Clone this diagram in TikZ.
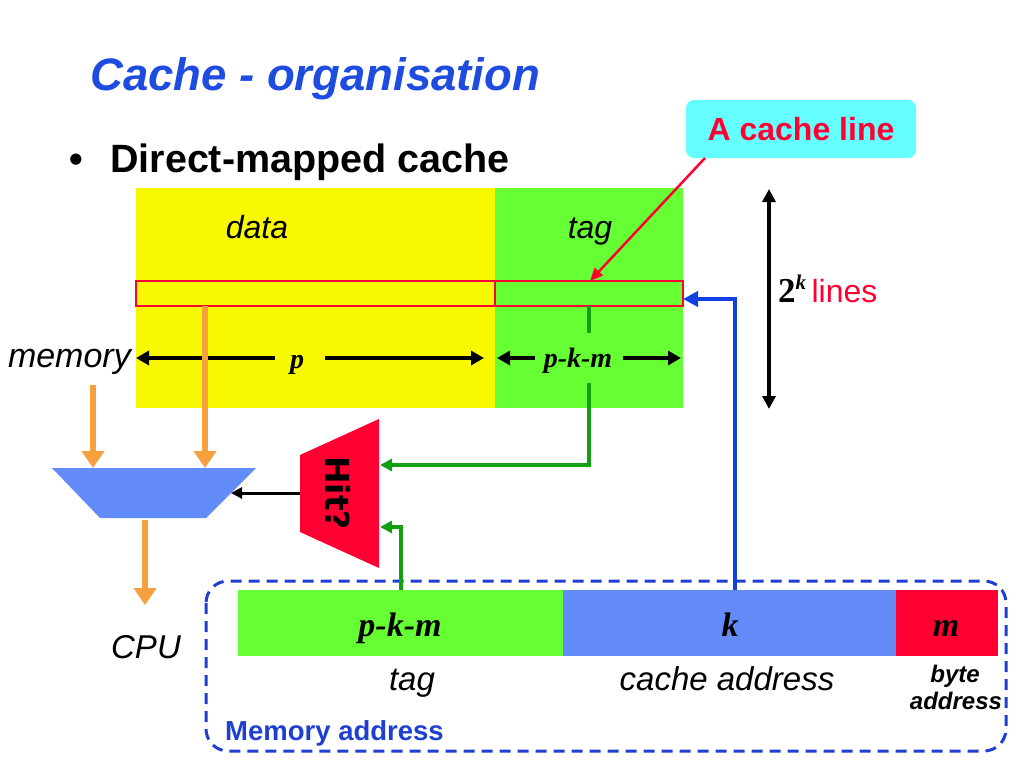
\documentclass[tikz,border=0pt]{standalone}
\usepackage{fontspec}
\setmainfont{Liberation Sans}
\newfontfamily\seriffont{Liberation Serif}
\newfontfamily\heavyfont{DejaVu Sans}
\usetikzlibrary{arrows.meta}
\definecolor{cyel}{HTML}{F8F800}
\definecolor{cgrn}{HTML}{66FF33}
\definecolor{cblu}{HTML}{648CF8}
\definecolor{cred}{HTML}{FF0033}
\definecolor{ccyan}{HTML}{66FFFF}
\definecolor{ctitle}{HTML}{1E4BE0}
\definecolor{corange}{HTML}{F7A040}
\definecolor{cline}{HTML}{1040E0}
\definecolor{cgline}{HTML}{10A010}
\definecolor{cdash}{HTML}{1E3FD0}
\newcommand{\fs}[1]{\fontsize{#1}{#1}\selectfont}
\tikzset{
  box/.style={inner sep=0, outer sep=0, anchor=north west},
  lbl/.style={inner sep=0, anchor=base, font=\fs{32}\itshape},
  mathlbl/.style={inner sep=0, anchor=base, font=\fs{28}\seriffont\bfseries\itshape},
  barlbl/.style={inner sep=0, anchor=base, font=\fs{34}\seriffont\bfseries\itshape},
  blk/.style={line width=3.5pt, -{Triangle[length=13pt,width=14pt]}},
  org/.style={corange, line width=6pt, -{Triangle[length=17pt,width=22pt]}},
  grn/.style={cgline, line width=3.5pt},
  linebox/.style={draw=cred, line width=2pt, inner sep=0, outer sep=0, anchor=north west, minimum height=25pt},
}
\begin{document}
\begin{tikzpicture}[x=1pt,y=-1pt]
\useasboundingbox (0,0) rectangle (1024,768);
% title and bullet
\node[inner sep=0, anchor=base west, text=ctitle, font=\fs{45.5}\bfseries\itshape] (title) at (90,90) {Cache - organisation};
\node[inner sep=0, anchor=base, font=\fs{39}\bfseries] (bullet) at (76,172) {\textbullet};
\node[inner sep=0, anchor=base west, font=\fs{39.5}\bfseries] (sub) at (110,172) {Direct-mapped cache};
% cache arrays
\node[box, fill=cyel, minimum width=359pt, minimum height=220pt] (data) at (136,188) {};
\node[box, fill=cgrn, minimum width=188pt, minimum height=220pt] (tagarr) at (495,188) {};
\node[lbl] (datalbl) at (257,238) {data};
\node[lbl] (taglbl) at (590,238) {tag};
% cache line
\node[linebox, minimum width=359pt] (ldata) at (136,281) {};
\node[linebox, minimum width=188pt] (ltag) at (495,281) {};
% width arrows
\node[mathlbl] (plbl) at (297,368) {p};
\coordinate (pl) at (275,358);
\coordinate (pr) at (325,358);
\draw[blk] (pl) -- (ldata.west |- pl);
\draw[blk] (pr) -- (484,358);
\node[mathlbl] (pkmlbl) at (578,367) {p-k-m};
\coordinate (ql) at (535,358);
\coordinate (qr) at (623,358);
\draw[blk] (ql) -- (497,358);
\draw[blk] (qr) -- (681,358);
\node[inner sep=0, anchor=base east, font=\fs{34}\itshape] (memory) at (131,367) {memory};
% callout
\node[fill=ccyan, rounded corners=8pt, minimum width=230pt, minimum height=58pt, inner sep=0, text=cred, font=\fs{32}\bfseries] (callout) at (801,129) {A cache line};
\draw[cred, line width=2.5pt, -{Triangle[length=13pt,width=11pt]}] (705,158) -- (ltag.north -| 590,0);
% 2^k lines
\draw[line width=3.5pt, {Triangle[length=13pt,width=13pt]}-{Triangle[length=13pt,width=13pt]}] (769,189) -- (769,409);
\node[inner sep=0, anchor=base west, font=\fs{32}] (lines) at (778,302) {{\seriffont\bfseries\fs{35}2\raisebox{0.36em}{\fs{21}\itshape k}}\,\textcolor{cred}{lines}};
% multiplexer
\coordinate (mux) at (154,493);
\fill[cblu] (52,468) -- (256,468) -- (206,518) -- (100,518) -- cycle;
% hit comparator
\fill[cred] (300,455) -- (379,419) -- (379,568) -- (300,532) -- cycle;
\node[inner sep=0, rotate=-90, font=\fs{33}\heavyfont\bfseries] (hit) at (338,493) {Hit?};
% connectors
\draw[line width=3pt, -{Triangle[length=11pt,width=11pt]}] (300,493) -- (231,493);
\draw[grn] (ltag.south -| 589,0) -- (589,333);
\draw[grn, -{Triangle[length=12pt,width=12pt]}] (589,383) -- (589,465) -- (380,465);
\draw[org] (93,385) -- (93,468);
\draw[org] (ldata.south -| 205,0) -- (205,468);
\draw[org] (145,520) -- (145,605);
\node[inner sep=0, anchor=base, font=\fs{33}\itshape] (cpu) at (146,658) {CPU};
% memory address
\draw[cdash, line width=3pt, dash pattern=on 11pt off 7pt, rounded corners=22pt] (206,581) rectangle (1006,751);
\node[box, fill=cgrn, minimum width=325pt, minimum height=66pt] (atag) at (238,590) {};
\node[box, fill=cblu, minimum width=333pt, minimum height=66pt] (aidx) at (563,590) {};
\node[box, fill=cred, minimum width=102pt, minimum height=66pt] (abyte) at (896,590) {};
\node[barlbl] at (400,636) {p-k-m};
\node[barlbl] at (730,636) {k};
\node[barlbl] at (946,636) {m};
\node[lbl, font=\fs{33}\itshape] at (412,690) {tag};
\node[lbl, font=\fs{33}\itshape] at (727,690) {cache address};
\node[lbl, font=\fs{24}\bfseries\itshape] at (955,682) {byte};
\node[lbl, font=\fs{24}\bfseries\itshape] at (956,709) {address};
\node[inner sep=0, anchor=base west, text=cdash, font=\fs{27.5}\bfseries] (memaddr) at (225,740) {Memory address};
\draw[grn, -{Triangle[length=12pt,width=12pt]}] (atag.north -| 401,0) -- (401,527) -- (380,527);
\draw[cline, line width=4.5pt, -{Triangle[length=15pt,width=15pt]}] (aidx.north -| 735,0) -- (735,299) -- (ltag.east |- 0,299);
\end{tikzpicture}
\end{document}
